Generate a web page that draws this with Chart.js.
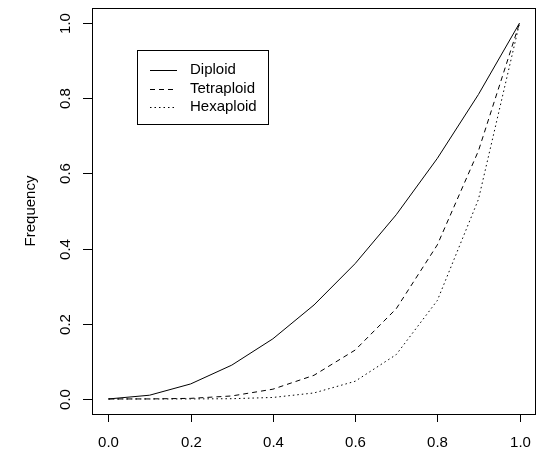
<!DOCTYPE html>
<html lang="en">
<head>
    <meta charset="UTF-8">
    <title>Frequency chart</title>
    <script src="https://cdn.jsdelivr.net/npm/chart.js"></script>
    <style>
        body { margin: 0; background: #fff; }
    </style>
</head>
<body>
    <canvas id="freq-chart" width="537" height="453"></canvas>

    <script>
        // values
        var xValues = [0, 0.1, 0.2, 0.3, 0.4, 0.5, 0.6, 0.7, 0.8, 0.9, 1.0];
        var diploid = [0, 0.01, 0.04, 0.09, 0.16, 0.25, 0.36, 0.49, 0.64, 0.81, 1.0];
        var tetraploid = [0, 0.0001, 0.0016, 0.008, 0.026, 0.063, 0.13, 0.24, 0.41, 0.66, 1.0];
        var hexaploid = [0, 0, 0.0001, 0.0007, 0.004, 0.016, 0.047, 0.118, 0.262, 0.531, 1.0];
        var tickValues = [0, 0.2, 0.4, 0.6, 0.8, 1.0];
        var seriesNames = ['Diploid', 'Tetraploid', 'Hexaploid'];
        var seriesDash = [[], [5, 4], [1.5, 3]];

        function toPoints(ys) {
            return ys.map(function(y, i) { return { x: xValues[i], y: y }; });
        }

        var font = '15px "Liberation Sans", Arial, sans-serif';

        // R style box, axes and legend
        var rAxes = {
            id: 'rAxes',
            afterDraw: function(chart) {
                var ctx = chart.ctx;
                var area = chart.chartArea;
                var xs = chart.scales.x;
                var ys = chart.scales.y;
                ctx.save();
                ctx.strokeStyle = '#000';
                ctx.fillStyle = '#000';
                ctx.lineWidth = 1;
                ctx.setLineDash([]);
                ctx.strokeRect(area.left + 0.5, area.top + 0.5, area.right - area.left - 1, area.bottom - area.top);

                ctx.font = font;
                // x axis
                ctx.textAlign = 'center';
                ctx.textBaseline = 'middle';
                tickValues.forEach(function(v) {
                    var px = Math.round(xs.getPixelForValue(v)) + 0.5;
                    ctx.beginPath();
                    ctx.moveTo(px, area.bottom);
                    ctx.lineTo(px, area.bottom + 8);
                    ctx.stroke();
                    ctx.fillText(v.toFixed(1), px, area.bottom + 29);
                });
                // y axis
                tickValues.forEach(function(v) {
                    var py = Math.round(ys.getPixelForValue(v)) + 0.5;
                    ctx.beginPath();
                    ctx.moveTo(area.left, py);
                    ctx.lineTo(area.left - 9, py);
                    ctx.stroke();
                    ctx.save();
                    ctx.translate(area.left - 26, py);
                    ctx.rotate(-Math.PI / 2);
                    ctx.fillText(v.toFixed(1), 0, 0);
                    ctx.restore();
                });
                // axis title
                ctx.save();
                ctx.translate(31, (ys.getPixelForValue(0) + ys.getPixelForValue(1)) / 2);
                ctx.rotate(-Math.PI / 2);
                ctx.fillText('Frequency', 0, 0);
                ctx.restore();

                // legend
                var lx = 137, ly = 50;
                ctx.strokeRect(lx + 0.5, ly + 0.5, 131, 74);
                ctx.textAlign = 'left';
                seriesNames.forEach(function(name, i) {
                    var y = ly + 20 + i * 18.5;
                    ctx.setLineDash(seriesDash[i]);
                    ctx.beginPath();
                    ctx.moveTo(lx + 13, Math.round(y) + 0.5);
                    ctx.lineTo(lx + 40, Math.round(y) + 0.5);
                    ctx.stroke();
                    ctx.setLineDash([]);
                    ctx.fillText(name, lx + 53, y);
                });
                ctx.restore();
            }
        };

        var ctx = document.getElementById('freq-chart').getContext('2d');
        var freqChart = new Chart(ctx, {
            type: 'line',
            data: {
                datasets: [
                    { label: seriesNames[0], data: toPoints(diploid), borderDash: seriesDash[0] },
                    { label: seriesNames[1], data: toPoints(tetraploid), borderDash: seriesDash[1] },
                    { label: seriesNames[2], data: toPoints(hexaploid), borderDash: seriesDash[2] }
                ]
            },
            options: {
                responsive: false,
                animation: false,
                layout: { padding: { left: 92, right: 1, top: 8, bottom: 39 } },
                elements: {
                    line: { borderColor: '#000', borderWidth: 1, tension: 0, fill: false },
                    point: { radius: 0 }
                },
                plugins: {
                    legend: { display: false },
                    tooltip: { enabled: false }
                },
                scales: {
                    x: { type: 'linear', min: -0.04, max: 1.04, display: false },
                    y: { type: 'linear', min: -0.04, max: 1.04, display: false }
                }
            },
            plugins: [rAxes]
        });
    </script>
</body>
</html>
